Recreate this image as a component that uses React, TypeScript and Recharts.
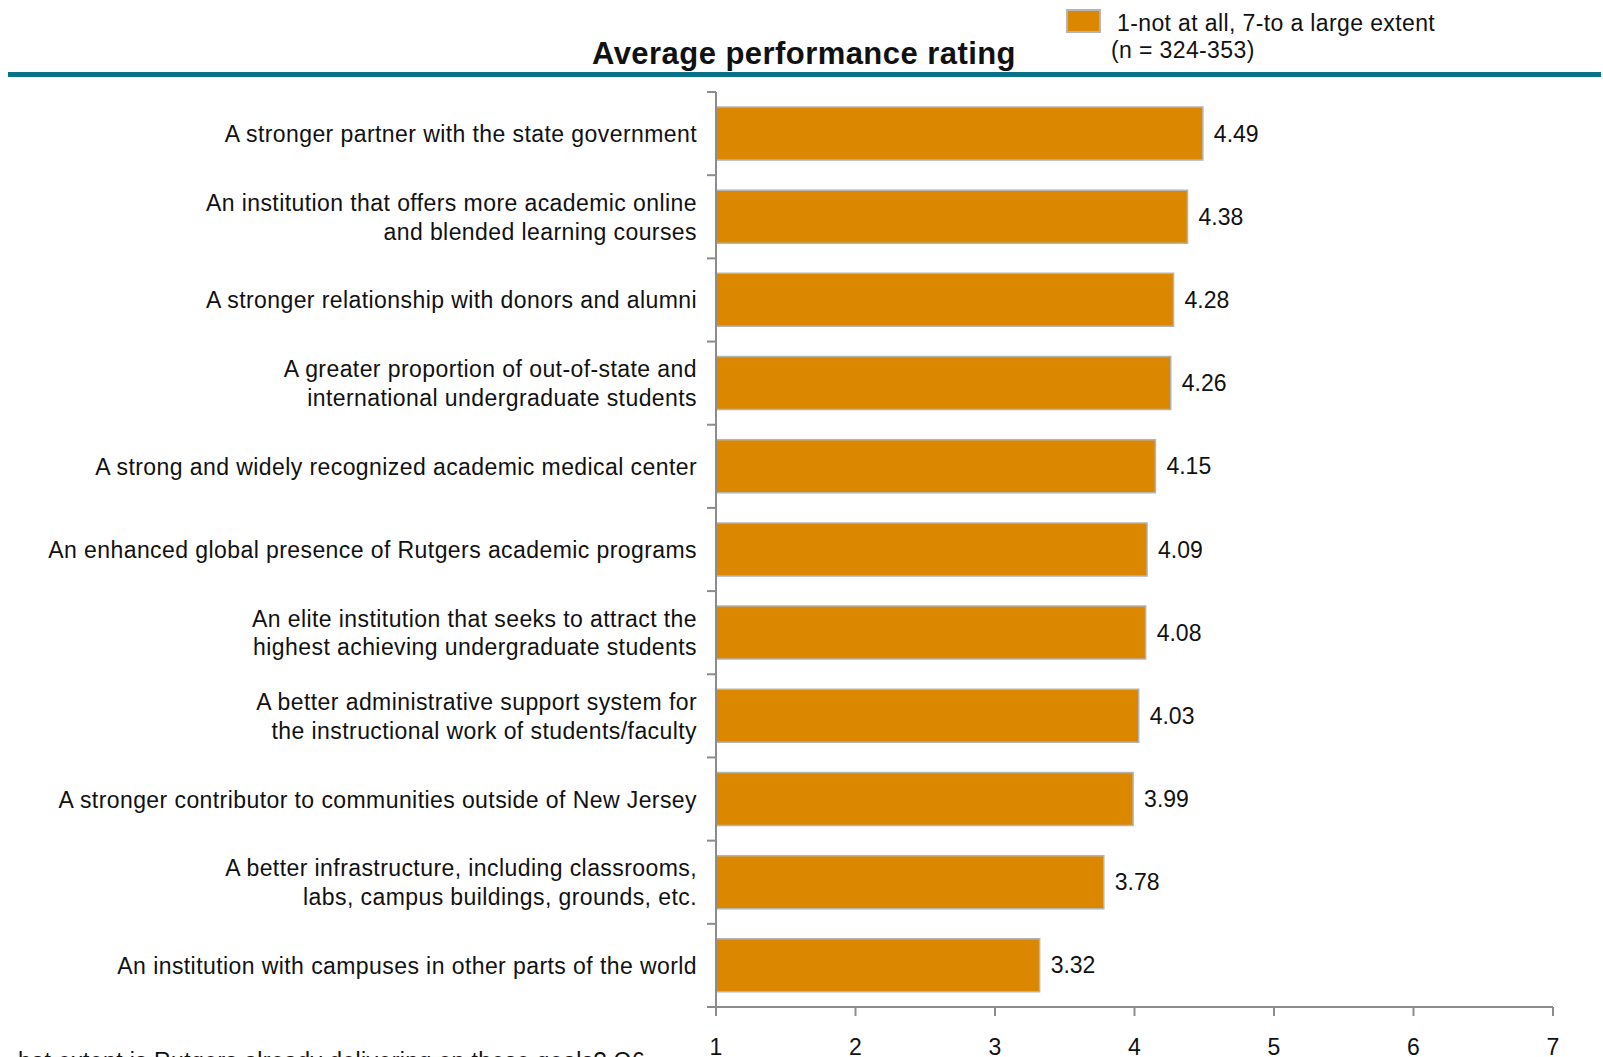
import React from "react";
import { BarChart, Bar, XAxis, YAxis, LabelList } from "recharts";

const CATEGORIES = [
  "A stronger partner with the state government",
  "An institution that offers more academic online\nand blended learning courses",
  "A stronger relationship with donors and alumni",
  "A greater proportion of out-of-state and\ninternational undergraduate students",
  "A strong and widely recognized academic medical center",
  "An enhanced global presence of Rutgers academic programs",
  "An elite institution that seeks to attract the\nhighest achieving undergraduate students",
  "A better administrative support system for\nthe instructional work of students/faculty",
  "A stronger contributor to communities outside of New Jersey",
  "A better infrastructure, including classrooms,\nlabs, campus buildings, grounds, etc.",
  "An institution with campuses in other parts of the world",
];

const RATINGS = [4.49, 4.38, 4.28, 4.26, 4.15, 4.09, 4.08, 4.03, 3.99, 3.78, 3.32];

const X_TICKS = [1, 2, 3, 4, 5, 6, 7];

const TITLE = "Average performance rating";
const LEGEND_LABEL = "1-not at all, 7-to a large extent";
const LEGEND_NOTE = "(n = 324-353)";
const FOOT_NOTE = "hat extent is Rutgers already delivering on these goals? Q6";

const W = 1603;
const H = 1057;
const PLOT_TOP = 92;
const PLOT_BOTTOM = 1007;
const AXIS_X = 716;
const BAND = (PLOT_BOTTOM - PLOT_TOP) / CATEGORIES.length;

const FONT = "Arial, 'Liberation Sans', sans-serif";
const ORANGE = "#DB8800";
const AXIS_GRAY = "#8C8C8C";

const data = CATEGORIES.map((name, i) => ({ name, value: RATINGS[i] }));

function CategoryTick(props: any) {
  const { y, payload, index } = props;
  const lines = String(payload.value).split("\n");
  const last = index === CATEGORIES.length - 1;
  return (
    <g>
      <line x1={AXIS_X - 9} x2={AXIS_X} y1={y - BAND / 2} y2={y - BAND / 2} stroke={AXIS_GRAY} strokeWidth={2} />
      {last && (
        <line x1={AXIS_X - 9} x2={AXIS_X} y1={y + BAND / 2} y2={y + BAND / 2} stroke={AXIS_GRAY} strokeWidth={2} />
      )}
      <text textAnchor="end" fontSize={23} fill="#111" fontFamily={FONT} letterSpacing={0.42}>
        {lines.map((l, i) => (
          <tspan key={i} x={697} y={y + (i - (lines.length - 1) / 2) * 28.6 + 8.5}>
            {l}
          </tspan>
        ))}
      </text>
    </g>
  );
}

function ValueTick(props: any) {
  const { x, payload } = props;
  return (
    <text x={x} y={1055} textAnchor="middle" fontSize={23} fill="#111" fontFamily={FONT}>
      {payload.value}
    </text>
  );
}

export default function App() {
  return (
    <div
      style={{
        position: "absolute",
        left: 0,
        top: 0,
        width: W,
        height: H,
        overflow: "hidden",
        background: "#fff",
        fontFamily: FONT,
      }}
    >
      <div
        style={{
          position: "absolute",
          left: 0,
          width: 1608,
          top: 38,
          textAlign: "center",
          fontSize: 31,
          lineHeight: "31px",
          fontWeight: "bold",
          letterSpacing: 0.45,
          color: "#111",
        }}
      >
        {TITLE}
      </div>
      <div
        style={{
          position: "absolute",
          left: 1066,
          top: 9,
          width: 31,
          height: 20,
          background: ORANGE,
          border: "2px solid #B4B4B4",
        }}
      />
      <div style={{ position: "absolute", left: 1117, top: 12, fontSize: 23, lineHeight: "23px", letterSpacing: 0.38, color: "#111", whiteSpace: "nowrap" }}>
        {LEGEND_LABEL}
      </div>
      <div style={{ position: "absolute", left: 1111, top: 39, fontSize: 23, lineHeight: "23px", letterSpacing: 0.38, color: "#111", whiteSpace: "nowrap" }}>
        {LEGEND_NOTE}
      </div>
      <div style={{ position: "absolute", left: 8, top: 72, width: 1593, height: 5, background: "#0A7189" }} />
      <div style={{ position: "absolute", left: 18, top: 1050, fontSize: 23, lineHeight: "23px", letterSpacing: 0.4, color: "#111", whiteSpace: "nowrap" }}>
        {FOOT_NOTE}
      </div>
      <div style={{ position: "absolute", left: 0, top: 0 }}>
        <BarChart
          width={W}
          height={H}
          data={data}
          layout="vertical"
          margin={{ top: PLOT_TOP, right: 50, bottom: 0, left: 0 }}
        >
          <XAxis
            type="number"
            domain={[1, 7]}
            ticks={X_TICKS}
            height={H - PLOT_BOTTOM}
            stroke={AXIS_GRAY}
            axisLine={{ stroke: AXIS_GRAY, strokeWidth: 2 }}
            tickLine={{ stroke: AXIS_GRAY, strokeWidth: 2 }}
            tickSize={9}
            tick={<ValueTick />}
            allowDataOverflow
          />
          <YAxis
            type="category"
            dataKey="name"
            width={AXIS_X}
            interval={0}
            axisLine={{ stroke: AXIS_GRAY, strokeWidth: 2 }}
            tickLine={false}
            tick={<CategoryTick />}
          />
          <Bar dataKey="value" fill={ORANGE} stroke="#B4B4B4" strokeWidth={1.5} barSize={53} isAnimationActive={false}>
            <LabelList
              dataKey="value"
              position="right"
              offset={11}
              formatter={(v: any) => Number(v).toFixed(2)}
              style={{ fontSize: 23, fill: "#111", fontFamily: FONT }}
            />
          </Bar>
        </BarChart>
      </div>
    </div>
  );
}
